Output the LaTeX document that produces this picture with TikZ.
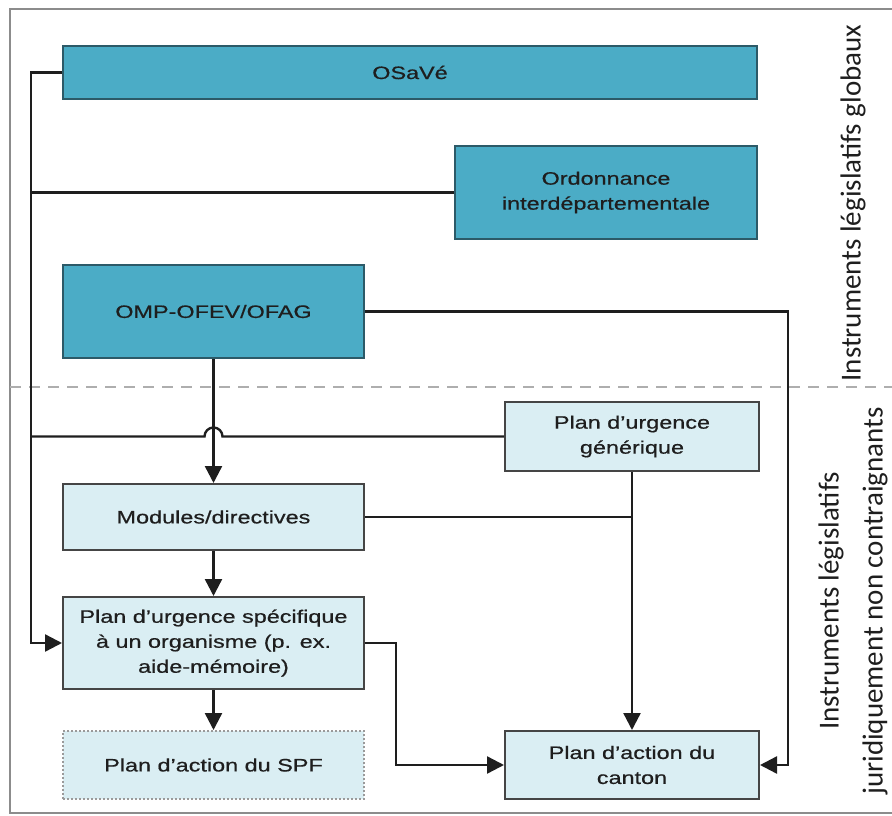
\documentclass[tikz,border=0pt]{standalone}
\usepackage{fontspec}
\setmainfont{Liberation Sans}
\newfontfamily\boxfont[FakeStretch=1.3,FakeBold=0.6]{Liberation Sans}
\newfontfamily\sidefont{Carlito}
\usetikzlibrary{positioning,arrows.meta,calc}

\definecolor{darkfill}{HTML}{4BACC6}
\definecolor{darkline}{HTML}{2C5A68}
\definecolor{lightfill}{HTML}{DAEEF3}
\definecolor{lightline}{HTML}{454545}
\definecolor{dotline}{HTML}{9A9A9A}
\definecolor{linecol}{HTML}{1E1E1E}
\definecolor{boxtext}{HTML}{1E1E1E}
\definecolor{framecol}{HTML}{8C8C8C}

\tikzset{
  legal/.style={draw=darkline, fill=darkfill, line width=2pt,
    minimum width=301pt, minimum height=93pt, inner sep=0pt, align=center,
    font=\boxfont\fontsize{18}{25}\selectfont, text=boxtext},
  guide/.style={legal, draw=lightline, fill=lightfill},
  draft/.style={guide, draw=dotline, dotted},
  side/.style={font=\sidefont\fontsize{29}{44}\selectfont, text=boxtext, align=center},
  conn/.style={draw=linecol, line width=2.4pt},
  arr/.style={conn, -{Triangle[length=17pt,width=17pt]}},
}

\begin{document}
\begin{tikzpicture}[x=1pt, y=-1pt]
  \useasboundingbox (0,0) rectangle (892,816);
  \draw[framecol, line width=2pt] (10,9) rectangle (900,813);
  \draw[dotline!80, line width=2pt, dash pattern=on 11pt off 8pt] (10,387) -- (892,387);

  % global instruments
  \node[legal, minimum width=694pt, minimum height=53pt] (osave) at (410,72.5) {OSaVé};
  \node[legal, minimum width=302pt] (ordo) at (606,192.5) {Ordonnance\\interdépartementale};
  \node[legal] (omp) at (213.5,311.5) {OMP-OFEV/OFAG};

  % non-binding instruments
  \node[guide, minimum height=66pt] (modules) [below=124pt of omp] {Modules/directives};
  \node[guide, minimum height=92pt] (specif) [below=45pt of modules] {Plan d’urgence spécifique\\à un organisme (p. ex.\\aide-mémoire)};
  \node[draft, minimum height=68pt] (spf) [below=40pt of specif] {Plan d’action du SPF};
  \node[guide, minimum width=254pt, minimum height=68pt] (canton) [right=139pt of spf] {Plan d’action du\\canton};
  \node[guide, minimum width=254pt, minimum height=69pt] (gen) [above=258pt of canton] {Plan d’urgence\\générique};

  \node[side, rotate=90] (globaux) at (853,203) {Instruments législatifs globaux};
  \node[side, rotate=90] (noncontr) at (853,601) {Instruments législatifs\\juridiquement non contraignants};

  \coordinate (ltrunk) at (31,0);
  \coordinate (rtrunk) at (788,0);

  \draw[arr] (osave.west) -- (osave.west -| ltrunk) |- (specif.west);
  \draw[conn] (ordo.west) -- (ordo.west -| ltrunk);
  \draw[conn] (gen.west) -- ($(gen.west -| omp.south)+(9,0)$)
    arc[start angle=0, end angle=180, radius=9pt] -- (gen.west -| ltrunk);
  \draw[arr] (omp.south) -- (modules.north);
  \draw[arr] (omp.east) -- (omp.east -| rtrunk) |- (canton.east);
  \draw[arr] (gen.south) -- (canton.north);
  \draw[conn] (modules.east) -- (modules.east -| gen.south);
  \draw[arr] (modules.south) -- (specif.north);
  \draw[arr] (specif.east) -- ++(31,0) |- (canton.west);
  \draw[arr] (specif.south) -- (spf.north);
\end{tikzpicture}
\end{document}
